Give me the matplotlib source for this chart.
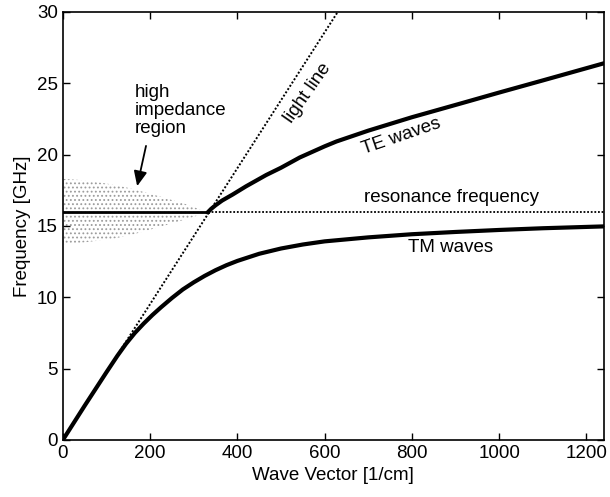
import numpy as np
import matplotlib.pyplot as plt

plt.rcParams['font.family'] = ['Liberation Sans', 'DejaVu Sans']

# Dados lidos do gráfico
# curva TM (parte de baixo)
tm_k = [0, 50, 100, 125, 145, 165, 185, 205, 225, 250, 275, 300, 325, 350, 375, 400,
        450, 500, 550, 600, 700, 800, 900, 1000, 1100, 1240]
tm_f = [0, 2.4, 4.75, 5.9, 6.75, 7.5, 8.15, 8.75, 9.3, 9.95, 10.55, 11.05, 11.5, 11.9,
        12.25, 12.55, 13.05, 13.42, 13.7, 13.92, 14.2, 14.42, 14.58, 14.72, 14.84, 14.97]

# curva TE (parte de cima, começa no cruzamento)
te_k = [332, 340, 350, 365, 389, 420, 466, 500, 543, 600, 627, 700, 800, 916, 1000, 1100, 1240]
te_f = [15.95, 16.2, 16.45, 16.78, 17.2, 17.78, 18.57, 19.08, 19.8, 20.58, 20.92, 21.68,
        22.62, 23.62, 24.35, 25.2, 26.4]

# linha de luz
light_k = [0, 630]
light_f = [0, 30]

# frequência de ressonância
f_res = 15.95
k_cross = 332

# região de alta impedância
reg_k = [0, 50, 115, 160, 230, 285, 332]
reg_top = [18.3, 18.2, 17.9, 17.6, 17.0, 16.5, 15.95]
reg_bot = [13.7, 13.85, 14.1, 14.4, 15.0, 15.5, 15.95]

fig = plt.figure(figsize=(6.10, 4.97), dpi=100)
ax = fig.add_axes([0.103, 0.1147, 0.887, 0.8613])

# região pontilhada
plt.rcParams['hatch.linewidth'] = 0.8
ax.fill_between(reg_k, reg_bot, reg_top, facecolor='none', edgecolor='#9c9c9c',
                hatch='....', linewidth=0)

# linha de luz
ax.plot(light_k, light_f, color='black', lw=1.4, linestyle=(0, (1, 1)))

# ressonância: sólida até o cruzamento, pontilhada depois
ax.plot([0, k_cross], [f_res, f_res], color='black', lw=2)
ax.plot([k_cross, 1240], [f_res, f_res], color='black', lw=1.3, linestyle=(0, (1, 1)))

# curvas TE e TM
ax.plot(tm_k, tm_f, color='black', lw=3, solid_capstyle='round', solid_joinstyle='round')
ax.plot(te_k, te_f, color='black', lw=3, solid_capstyle='round', solid_joinstyle='round')

# textos
fs = 13.5
ax.text(561, 24.3, 'light line', rotation=55, ha='center', va='center', fontsize=fs)
ax.text(776, 21.3, 'TE waves', rotation=19, ha='center', va='center', fontsize=fs)
ax.text(891, 16.96, 'resonance frequency', ha='center', va='center', fontsize=fs)
ax.text(888, 13.5, 'TM waves', ha='center', va='center', fontsize=fs)
ax.text(165, 23.1, 'high\nimpedance\nregion', ha='left', va='center', fontsize=fs,
        linespacing=1.1)
ax.annotate('', xy=(169, 17.6), xytext=(192, 20.8),
            arrowprops=dict(arrowstyle='-|>,head_width=0.4,head_length=0.9',
                            color='black', lw=1.3))

# eixos
ax.set_xlim(0, 1240)
ax.set_ylim(0, 30)
ax.set_xticks([0, 200, 400, 600, 800, 1000, 1200])
ax.set_yticks([0, 5, 10, 15, 20, 25, 30])
ax.tick_params(direction='in', top=True, right=True, length=5, width=1, labelsize=fs)
for s in ax.spines.values():
    s.set_linewidth(1.2)
ax.set_xlabel('Wave Vector [1/cm]', fontsize=fs, labelpad=4)
ax.set_ylabel('Frequency [GHz]', fontsize=fs, labelpad=4)

fig.savefig('out.png', dpi=100)
